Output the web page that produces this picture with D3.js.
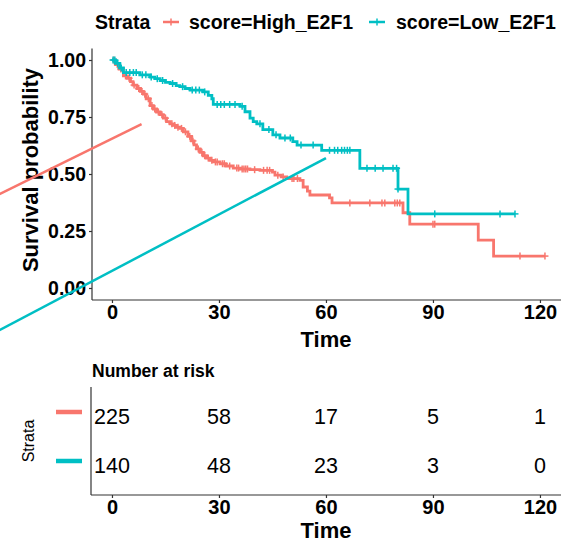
<!DOCTYPE html>
<html>
<head>
<meta charset="utf-8">
<script src="https://cdn.jsdelivr.net/npm/d3@7"></script>
<style>
  html, body { margin: 0; padding: 0; background: #fff; }
  svg { display: block; font-family: "Liberation Sans", Arial, sans-serif; }
</style>
</head>
<body>
<svg id="chart" width="575" height="545"></svg>
<script>
// Kaplan-Meier step points [time, survival] for each stratum
const highSteps = [
  [0, 1.00], [1.0, 0.98], [2.0, 0.96], [3.2, 0.93], [4.3, 0.92], [5.2, 0.905],
  [5.9, 0.89], [7.0, 0.875], [8.0, 0.862], [8.8, 0.85], [9.6, 0.83], [10.7, 0.80],
  [11.6, 0.785], [12.5, 0.772], [13.5, 0.76], [14.4, 0.745], [15.3, 0.73], [16.3, 0.72],
  [17.2, 0.713], [18.1, 0.705], [19.0, 0.70], [20.0, 0.685], [21.3, 0.665], [22.3, 0.645],
  [23.0, 0.628], [23.7, 0.61], [24.7, 0.595], [25.6, 0.58], [26.5, 0.57], [27.5, 0.56],
  [28.5, 0.553], [30.3, 0.545], [32.0, 0.535], [34.0, 0.526], [36.0, 0.522], [38.7, 0.519],
  [41.5, 0.516], [45.0, 0.508], [45.7, 0.495], [47.5, 0.487], [49.0, 0.48], [52.7, 0.472],
  [53.6, 0.443], [54.8, 0.425], [55.5, 0.408], [61.0, 0.395], [61.7, 0.373], [81.6, 0.33],
  [83.5, 0.28], [102.7, 0.21], [107.0, 0.14]
];
const highEnd = 121.4;
const highCensor = [
  0.5, 1.5, 2.5, 3.8, 4.8, 6.2, 7.5, 8.4, 9.2, 10.2, 11.2, 12.0, 13.0, 14.0, 15.0, 16.8,
  17.6, 18.5, 19.5, 20.6, 21.8, 22.7, 24.2, 25.2, 26.0, 27.0, 28.0, 29.0, 29.5, 31.0, 31.5,
  33.0, 35.0, 35.5, 36.5, 37.0, 37.5, 38.0, 40.0, 42.5, 43.5, 44.2, 46.5, 48.0, 50.5, 51.0,
  52.0, 66.7, 72.3, 75.7, 76.5, 79.3, 80.0, 80.7, 90.0, 90.5, 114.4, 121.4
];

const lowSteps = [
  [0, 1.00], [1.0, 0.985], [2.2, 0.965], [3.2, 0.945], [7.8, 0.935], [10.7, 0.925],
  [12.0, 0.918], [13.5, 0.91], [15.0, 0.902], [16.3, 0.897], [18.0, 0.888], [19.0, 0.883],
  [20.5, 0.875], [21.9, 0.868], [25.5, 0.86], [27.0, 0.845], [28.0, 0.83], [28.4, 0.805],
  [35.9, 0.797], [37.3, 0.773], [38.7, 0.745], [39.6, 0.73], [40.6, 0.72], [42.3, 0.695],
  [45.1, 0.672], [47.1, 0.658], [50.7, 0.642], [51.9, 0.627], [58.8, 0.604], [69.5, 0.525],
  [80.2, 0.434], [83.0, 0.325]
];
const lowEnd = 113.0;
const lowCensor = [
  0.3, 0.8, 1.6, 2.6, 4.0, 5.0, 6.0, 6.8, 8.5, 9.5, 11.0, 12.7, 14.2, 17.0, 19.8, 22.5,
  23.5, 24.5, 26.0, 29.5, 30.5, 31.5, 33.0, 34.5, 36.5, 41.5, 44.0, 46.0, 48.5, 50.0, 53.0,
  56.4, 61.0, 62.4, 63.3, 64.4, 65.2, 66.0, 66.7, 71.5, 73.8, 76.0, 78.8, 79.8, 80.2, 90.5,
  108.8, 113.0
];

// Stray straight segments [time, survival] drawn over the plot
const highSegment = [[-40, 0.346], [8.3, 0.719]];
const lowSegment = [[-40, -0.255], [60, 0.570]];

// Legend and risk table
const strataNames = ["score=High_E2F1", "score=Low_E2F1"];
const strataColors = ["#F8766D", "#00BFC4"];
const timeTicks = [0, 30, 60, 90, 120];
const survTicks = [0, 0.25, 0.5, 0.75, 1];
const survTickLabels = ["0.00", "0.25", "0.50", "0.75", "1.00"];
const riskHigh = [225, 58, 17, 5, 1];
const riskLow = [140, 48, 23, 3, 0];

const svg = d3.select("#chart");
const axisColor = "#333";

const x = d3.scaleLinear().domain([-5.6, 125.9]).range([92, 561]);
const y = d3.scaleLinear().domain([-0.05, 1.05]).range([299.4, 48.6]);

// ---------- legend ----------
const legend = svg.append("g");
legend.append("text").attr("x", 95).attr("y", 22).attr("dominant-baseline", "central")
  .attr("font-size", 19.5).attr("font-weight", "bold").text("Strata");
const legendItems = [
  { key: 171, label: 189 },
  { key: 377, label: 396 }
];
legendItems.forEach((it, i) => {
  legend.append("line").attr("x1", it.key - 8).attr("x2", it.key + 8)
    .attr("y1", 22).attr("y2", 22).attr("stroke", strataColors[i]).attr("stroke-width", 2.5);
  legend.append("line").attr("x1", it.key).attr("x2", it.key)
    .attr("y1", 18.5).attr("y2", 25.5).attr("stroke", strataColors[i]).attr("stroke-width", 1.5);
  legend.append("text").attr("x", it.label).attr("y", 22).attr("dominant-baseline", "central")
    .attr("font-size", 19.5).attr("font-weight", "bold").text(strataNames[i]);
});

// ---------- survival panel axes ----------
const xAxis = d3.axisBottom(x).tickValues(timeTicks).tickSizeInner(3).tickSizeOuter(0).tickPadding(2);
const gx = svg.append("g").attr("transform", "translate(0,300)").call(xAxis);
gx.select(".domain").attr("d", "M92,0H561").attr("stroke", axisColor).attr("stroke-width", 1.2);
gx.selectAll(".tick line").attr("stroke", axisColor).attr("stroke-width", 1.2);
gx.selectAll(".tick text").attr("font-size", 20).attr("font-weight", "bold").attr("fill", "#000")
  .attr("font-family", "Liberation Sans, Arial, sans-serif");

const yAxis = d3.axisLeft(y).tickValues(survTicks).tickFormat((d, i) => survTickLabels[i])
  .tickSizeInner(3).tickSizeOuter(0).tickPadding(3);
const gy = svg.append("g").attr("transform", "translate(92,0)").call(yAxis);
gy.select(".domain").attr("d", "M0,48.6V300").attr("stroke", axisColor).attr("stroke-width", 1.2);
gy.selectAll(".tick line").attr("stroke", axisColor).attr("stroke-width", 1.2);
gy.selectAll(".tick text").attr("font-size", 19.5).attr("font-weight", "bold").attr("fill", "#000")
  .attr("font-family", "Liberation Sans, Arial, sans-serif");

svg.append("text").attr("transform", "translate(30,170) rotate(-90)")
  .attr("text-anchor", "middle").attr("dominant-baseline", "central")
  .attr("font-size", 22).attr("font-weight", "bold").text("Survival probability");
svg.append("text").attr("x", x(60)).attr("y", 339).attr("text-anchor", "middle")
  .attr("dominant-baseline", "central").attr("font-size", 22).attr("font-weight", "bold").text("Time");

// ---------- survival curves ----------
function survAt(steps, t) {
  let s = steps[0][1];
  for (const p of steps) { if (p[0] <= t) s = p[1]; else break; }
  return s;
}
const stepLine = d3.line().x(d => x(d[0])).y(d => y(d[1])).curve(d3.curveStepAfter);

const groups = [
  { steps: highSteps, end: highEnd, censor: highCensor, color: strataColors[0] },
  { steps: lowSteps, end: lowEnd, censor: lowCensor, color: strataColors[1] }
];
groups.forEach(g => {
  const pts = g.steps.concat([[g.end, g.steps[g.steps.length - 1][1]]]);
  svg.append("path").attr("d", stepLine(pts)).attr("fill", "none")
    .attr("stroke", g.color).attr("stroke-width", 2.8).attr("stroke-linejoin", "miter");
  const cg = svg.append("g").attr("stroke", g.color).attr("stroke-width", 1.5);
  g.censor.forEach(t => {
    const cx = x(t), cy = y(survAt(g.steps, t));
    cg.append("line").attr("x1", cx - 3.5).attr("x2", cx + 3.5).attr("y1", cy).attr("y2", cy);
    cg.append("line").attr("x1", cx).attr("x2", cx).attr("y1", cy - 3.5).attr("y2", cy + 3.5);
  });
});

// ---------- straight segments ----------
const segLine = d3.line().x(d => x(d[0])).y(d => y(d[1]));
[highSegment, lowSegment].forEach((seg, i) => {
  svg.append("path").attr("d", segLine(seg)).attr("fill", "none")
    .attr("stroke", strataColors[i]).attr("stroke-width", 2.5);
});

// ---------- risk table ----------
svg.append("text").attr("x", 92).attr("y", 371).attr("dominant-baseline", "central")
  .attr("font-size", 17.5).attr("font-weight", "bold").text("Number at risk");

const rowY = d3.scalePoint().domain(strataNames).range([417, 466]);
const gtx = svg.append("g").attr("transform", "translate(0,495)")
  .call(d3.axisBottom(x).tickValues(timeTicks).tickSizeInner(3).tickSizeOuter(0).tickPadding(2));
gtx.select(".domain").attr("d", "M91,0H561").attr("stroke", axisColor).attr("stroke-width", 1.2);
gtx.selectAll(".tick line").attr("stroke", axisColor).attr("stroke-width", 1.2);
gtx.selectAll(".tick text").attr("font-size", 20).attr("font-weight", "bold").attr("fill", "#000")
  .attr("font-family", "Liberation Sans, Arial, sans-serif");
svg.append("line").attr("x1", 91).attr("x2", 91).attr("y1", 387).attr("y2", 495)
  .attr("stroke", axisColor).attr("stroke-width", 1.2);

[riskHigh, riskLow].forEach((row, i) => {
  const ry = rowY(strataNames[i]);
  svg.append("line").attr("x1", 56).attr("x2", 82).attr("y1", ry - 5).attr("y2", ry - 5)
    .attr("stroke", strataColors[i]).attr("stroke-width", 4.5);
  row.forEach((v, j) => {
    svg.append("text").attr("x", x(timeTicks[j])).attr("y", ry).attr("text-anchor", "middle")
      .attr("dominant-baseline", "central").attr("font-size", 21.5).text(v);
  });
});
svg.append("text").attr("transform", "translate(28,441) rotate(-90)").attr("text-anchor", "middle")
  .attr("dominant-baseline", "central").attr("font-size", 16).text("Strata");
svg.append("text").attr("x", x(60)).attr("y", 530).attr("text-anchor", "middle")
  .attr("dominant-baseline", "central").attr("font-size", 22).attr("font-weight", "bold").text("Time");
</script>
</body>
</html>
